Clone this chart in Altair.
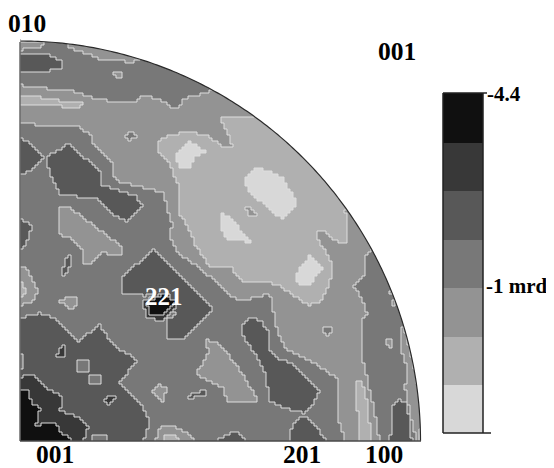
import altair as alt
import numpy as np
import pandas as pd

LEVEL_GRAYS = ["#101010", "#383838", "#585858", "#787878", "#939393", "#b0b0b0", "#d8d8d8"]
BASE_LEVEL = 3
CX, CY, R = 20.5, 441, 400
STEP = 3
# (level, outline), painted in order
REGIONS = [
 (4, [(19,85),(43,88),(77,92),(97,100),(133,102),(145,95),(160,100),(177,110),(185,98),(210,92),(214,80),(300,70),(430,190),(372,251),(365,258),(365,275),(353,285),(357,291),(365,306),(368,316),(362,318),(363,361),(373,405),(380,442),(345,442),(338,418),(337,378),(325,370),(310,361),(285,348),(275,325),(272,296),(265,295),(242,301),(230,295),(217,283),(200,268),(180,255),(170,238),(172,223),(167,207),(163,192),(123,183),(113,177),(112,163),(93,143),(90,135),(80,127),(50,127),(19,122)]),
 (4, [(19,42),(43,42),(43,45),(40,48),(19,50)]),
 (4, [(67,47),(83,52),(103,60),(122,60),(128,64),(137,61),(150,40),(67,30)]),
 (4, [(113,73),(123,73),(123,78),(115,77)]),
 (4, [(402,325),(407,338),(415,371),(422,411),(425,442),(417,442),(412,421),(405,388),(407,368),(402,351),(400,335)]),
 (4, [(390,291),(397,306),(393,306),(392,298)]),
 (4, [(387,340),(392,340),(392,348),(388,349)]),
 (4, [(207,340),(217,342),(230,357),(243,375),(258,401),(253,403),(228,403),(223,388),(217,385),(203,378),(197,372),(198,371),(208,353)]),
 (4, [(153,391),(160,384),(166,388),(165,401),(160,401)]),
 (4, [(155,442),(160,428),(170,424),(187,433),(195,442)]),
 (4, [(20,266),(27,268),(38,291),(33,301),(20,306)]),
 (4, [(59,301),(68,297),(77,298),(77,305),(70,309)]),
 (4, [(58,207),(70,207),(83,218),(100,230),(113,240),(123,248),(122,255),(103,253),(90,265),(83,265),(83,251),(70,238),(60,235)]),
 (3, [(125,136),(132,132),(137,137),(130,140)]),
 (3, [(323,327),(331,326),(332,332),(327,337),(324,333)]),
 (5, [(270,100),(253,117),(220,118),(227,132),(233,147),(223,147),(207,135),(190,132),(170,135),(160,140),(158,150),(170,165),(180,190),(178,210),(190,232),(197,248),(210,266),(230,266),(243,283),(260,281),(280,285),(293,296),(310,305),(320,301),(330,285),(332,265),(327,253),(317,238),(317,230),(325,232),(338,242),(347,242),(348,223),(345,210),(370,190),(340,150)]),
 (5, [(20,95),(47,98),(67,102),(83,103),(78,108),(68,107),(43,105),(20,105)]),
 (5, [(357,381),(362,380),(367,401),(372,442),(358,442)]),
 (5, [(162,442),(165,435),(175,435),(182,442)]),
 (5, [(20,281),(27,291),(20,300)]),
 (5, [(418,430),(425,430),(425,442),(419,442)]),
 (6, [(175,157),(190,142),(207,152),(195,157),(190,167),(180,167)]),
 (6, [(243,180),(257,167),(282,177),(297,203),(283,220),(270,210),(250,192)]),
 (4, [(246,207),(250,207),(257,214),(256,217),(248,215)]),
 (6, [(220,212),(233,220),(250,242),(227,240),(222,230)]),
 (6, [(297,273),(310,255),(322,268),(308,287),(297,282)]),
 (2, [(242,335),(243,325),(250,318),(260,320),(268,331),(270,351),(280,360),(293,363),(320,390),(312,405),(303,413),(290,410),(268,401),(267,375),(253,351)]),
 (2, [(288,442),(292,426),(302,415),(313,423),(327,442)]),
 (2, [(212,442),(237,430),(247,442)]),
 (2, [(390,442),(393,405),(398,400),(405,401),(410,421),(412,442)]),
 (2, [(188,396),(197,392),(207,390),(207,395),(197,397),(190,399)]),
 (2, [(20,318),(40,313),(53,318),(63,325),(78,341),(100,325),(113,345),(137,360),(120,383),(140,403),(150,420),(143,442),(20,442)]),
 (3, [(77,361),(88,361),(88,373),(77,373)]),
 (3, [(88,374),(100,374),(100,384),(88,384)]),
 (3, [(92,442),(92,436),(108,436),(108,442)]),
 (3, [(19,355),(24,355),(24,370),(19,370)]),
 (1, [(55,358),(61,346),(66,346),(66,358)]),
 (1, [(102,402),(107,396),(117,396),(110,404)]),
 (1, [(20,378),(33,373),(43,385),(63,398),(60,411),(77,416),(88,428),(83,442),(20,442)]),
 (0, [(20,390),(28,390),(32,403),(40,408),(38,420),(32,428),(43,423),(57,423),(58,431),(70,438),(72,442),(20,442)]),
 (2, [(123,276),(153,250),(182,276),(213,308),(185,339),(168,339),(168,318),(143,295),(123,295)]),
 (3, [(137,306),(147,293),(170,300),(176,315),(168,318),(160,325),(147,324)]),
 (1, [(142,301),(148,319),(163,320),(177,307),(167,292)]),
 (0, [(147,303),(151,315),(164,314),(176,302),(164,293)]),
 (2, [(20,138),(30,142),(45,158),(30,170),(20,175)]),
 (2, [(45,158),(70,143),(83,157),(100,170),(102,185),(137,197),(143,207),(127,222),(117,217),(100,200),(60,194),(52,177)]),
 (2, [(20,217),(32,227),(27,240),(22,250),(20,250)]),
 (2, [(62,271),(67,256),(72,255),(71,263),(68,273),(63,275)]),
 (2, [(20,53),(48,55),(62,62),(62,68),(43,72),(20,73)]),
]
BAR_EDGES = [93, 143, 191, 240, 288, 337, 385, 433]
BAR_LEFT, BAR_RIGHT = 443, 483
BLACK_LABELS = [("010", 8, 32, 25.5), ("001", 378, 60, 25.5), ("001", 36, 463, 25.5), ("201", 283, 463, 25.5),
                ("100", 365, 463, 25.5), ("-4.4", 487, 101, 21), ("-1 mrd", 486, 293, 21)]
WHITE_LABELS = [("221", 145, 305, 25)]
FONT = "Liberation Serif"


def inside(px, py, poly):
    hit = False
    n = len(poly)
    for i in range(n):
        x1, y1 = poly[i]
        x2, y2 = poly[(i + 1) % n]
        if (y1 > py) != (y2 > py) and px < (x2 - x1) * (py - y1) / (y2 - y1) + x1:
            hit = not hit
    return hit


xs = np.arange(20, 424, STEP)
ys = np.arange(441 - 134 * STEP, 441 + 1, STEP)
nx, ny = len(xs), len(ys) - 1
grid = np.full((ny, nx), -1)
for j in range(ny):
    for i in range(nx):
        px, py = xs[i] + STEP / 2, ys[j] + STEP / 2
        if np.hypot(px - CX, py - CY) > R + 6:
            continue
        lev = BASE_LEVEL
        for level, poly in REGIONS:
            if inside(px, py, poly):
                lev = level
        grid[j, i] = lev

cells = []
for j in range(ny):
    i = 0
    while i < nx:
        k = i
        while k + 1 < nx and grid[j, k + 1] == grid[j, i]:
            k += 1
        if grid[j, i] >= 0:
            cells.append(dict(x=int(xs[i]), x2=int(xs[k] + STEP), y=int(ys[j]), y2=int(ys[j] + STEP), level=int(grid[j, i])))
        i = k + 1
for b in range(len(BAR_EDGES) - 1):
    cells.append(dict(x=BAR_LEFT, x2=BAR_RIGHT, y=BAR_EDGES[b], y2=BAR_EDGES[b + 1], level=b))

edges = []
for j in range(ny):
    for i in range(nx):
        if grid[j, i] < 0:
            continue
        if i + 1 < nx and grid[j, i + 1] >= 0 and grid[j, i + 1] != grid[j, i]:
            edges.append(dict(x=int(xs[i] + STEP), x2=int(xs[i] + STEP), y=int(ys[j]), y2=int(ys[j] + STEP)))
        if j + 1 < ny and grid[j + 1, i] >= 0 and grid[j + 1, i] != grid[j, i]:
            edges.append(dict(x=int(xs[i]), x2=int(xs[i] + STEP), y=int(ys[j] + STEP), y2=int(ys[j] + STEP)))

X = alt.X("x:Q", axis=None, scale=alt.Scale(domain=[8, 546], nice=False, zero=False))
Y = alt.Y("y:Q", axis=None, scale=alt.Scale(domain=[468, 8], nice=False, zero=False))

rects = alt.Chart(pd.DataFrame(cells)).mark_rect(strokeWidth=0).encode(
    x=X, x2="x2:Q", y=Y, y2="y2:Q",
    color=alt.Color("level:O", legend=None,
                    scale=alt.Scale(domain=list(range(7)), range=LEVEL_GRAYS)),
)
contours = alt.Chart(pd.DataFrame(edges)).mark_rule(color="#dedede", strokeWidth=1).encode(
    x=X, x2="x2:Q", y=Y, y2="y2:Q")


def arc(radius):
    t = np.linspace(0, np.pi / 2, 181)
    return pd.DataFrame(dict(x=CX + radius * np.cos(t), y=CY - radius * np.sin(t), i=np.arange(181)))


mask = alt.Chart(arc(R + 9)).mark_line(color="white", strokeWidth=18, strokeCap="butt").encode(x=X, y=Y, order="i:Q")
rim = alt.Chart(arc(R)).mark_line(color="#2a2a2a", strokeWidth=1.2).encode(x=X, y=Y, order="i:Q")

frame_df = pd.DataFrame([
    dict(x=20, x2=20, y=42, y2=441, c="#6a6a6a"),
    dict(x=20, x2=421, y=441, y2=441, c="#4a4a4a"),
    dict(x=BAR_LEFT, x2=BAR_LEFT, y=BAR_EDGES[0], y2=BAR_EDGES[-1], c="#222222"),
    dict(x=BAR_RIGHT, x2=BAR_RIGHT, y=BAR_EDGES[0], y2=BAR_EDGES[-1], c="#222222"),
    dict(x=BAR_LEFT, x2=487, y=BAR_EDGES[0], y2=BAR_EDGES[0], c="#222222"),
    dict(x=BAR_LEFT, x2=491, y=BAR_EDGES[-1], y2=BAR_EDGES[-1], c="#222222"),
])
frame = alt.Chart(frame_df).mark_rule(strokeWidth=1.5).encode(
    x=X, x2="x2:Q", y=Y, y2="y2:Q", stroke=alt.Stroke("c:N", scale=None))


def labels(rows, color):
    df = pd.DataFrame(rows, columns=["t", "x", "y", "s"])
    return alt.Chart(df).mark_text(font=FONT, fontWeight="bold", align="left", baseline="alphabetic", color=color).encode(
        x=X, y=Y, text="t:N", size=alt.Size("s:Q", scale=None))


chart = alt.layer(rects, contours, mask, rim, frame, labels(BLACK_LABELS, "black"), labels(WHITE_LABELS, "white")).properties(
    width=538, height=460, padding=0, autosize="none", background="white",
).configure_view(stroke=None)

chart.save("out.html", embed_options={"renderer": "svg", "actions": False})
